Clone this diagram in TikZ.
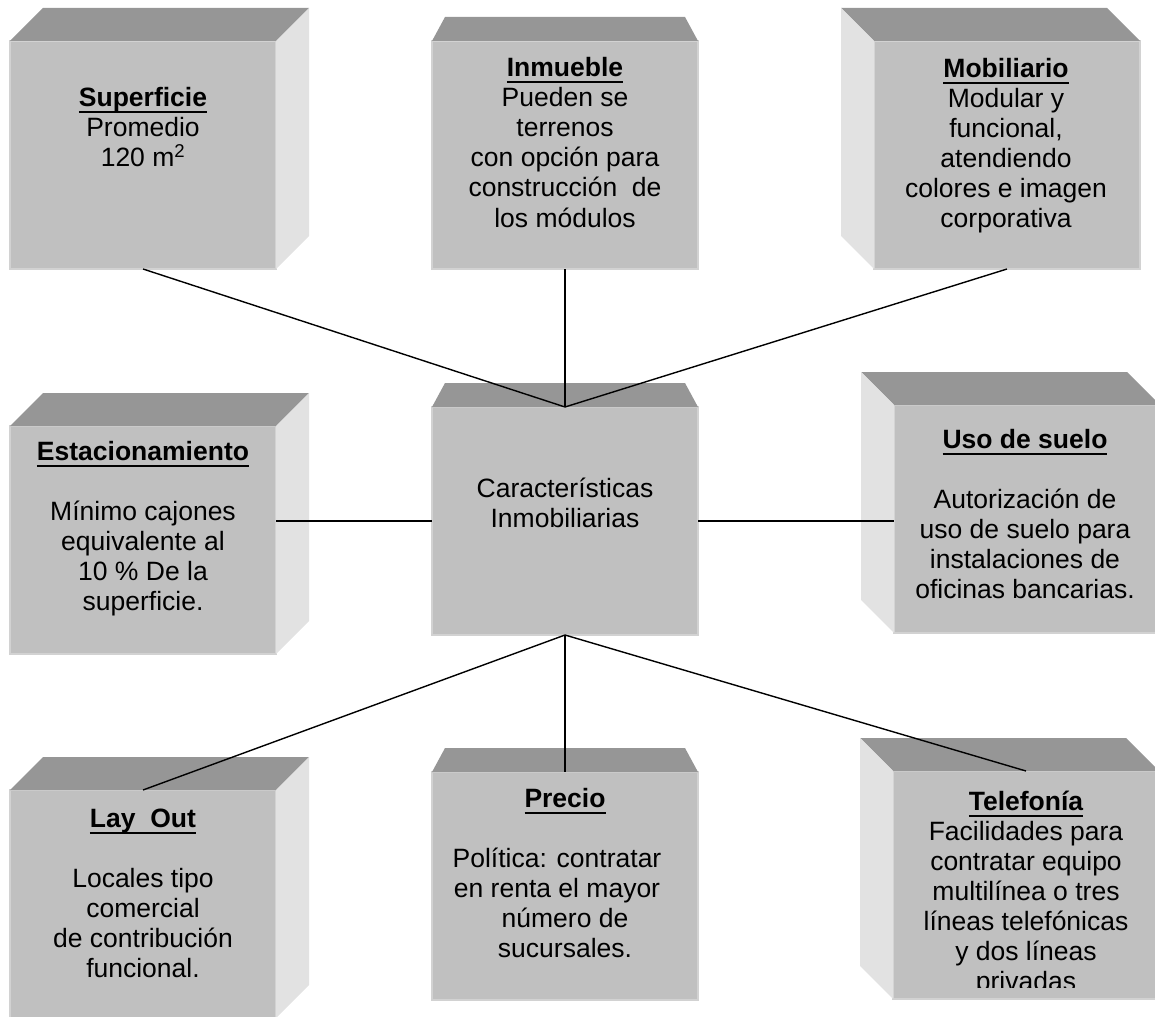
\documentclass[tikz,border=0pt]{standalone}
\usepackage{fontspec}
\setmainfont{Liberation Sans}
\usetikzlibrary{calc}

\definecolor{frontgray}{HTML}{C0C0C0}
\definecolor{topgray}{HTML}{969696}
\definecolor{sidegray}{HTML}{E2E2E2}
\definecolor{edgegray}{HTML}{D2D2D2}

% bold, underlined heading
\newcommand\boxhead[1]{\setbox0\hbox{\bfseries #1}\rlap{\rule[-6.5pt]{\wd0}{2pt}}\box0}

% shaded faces of a block; #1 = name of its front face
\newcommand\blockright[1]{%
  \fill[topgray] (#1.north west) -- ++(33,-33) -- ([shift={(33,-33)}]#1.north east) -- (#1.north east) -- cycle;
  \fill[sidegray] (#1.north east) -- ++(33,-33) -- ([shift={(33,-33)}]#1.south east) -- (#1.south east) -- cycle;}
\newcommand\blockleft[1]{%
  \fill[topgray] (#1.north east) -- ++(-33,-33) -- ([shift={(-33,-33)}]#1.north west) -- (#1.north west) -- cycle;
  \fill[sidegray] (#1.north west) -- ++(-33,-33) -- ([shift={(-33,-33)}]#1.south west) -- (#1.south west) -- cycle;}
\newcommand\blockmid[1]{%
  \fill[topgray] (#1.north west) -- ++(13,-24) -- ([shift={(-13,-24)}]#1.north east) -- (#1.north east) -- cycle;}

\begin{document}
\begin{tikzpicture}[x=1pt, y=-1pt,
  face/.style={rectangle, fill=frontgray, draw=edgegray, line width=1.2pt,
    inner sep=0pt, outer sep=0pt, minimum width=266pt, minimum height=228pt, anchor=north west},
  txt/.style={align=center, anchor=base, inner sep=0pt,
    font=\fontsize{26.5}{30}\selectfont},
  link/.style={draw=black, line width=1.4pt}]
\useasboundingbox (0,0) rectangle (1155,1016);
\clip (0,0) rectangle (1155,1016);

% front faces
\node[face] (sup) at (10,41) {};
\node[face] (inm) at (432,41) {};
\node[face] (mob) at (874,41) {};
\node[face] (est) at (10,426) {};
\node[face] (ctr) at (432,407) {};
\node[face] (uso) at (894,405) {};
\node[face] (lay) at (10,790) {};
\node[face] (pre) at (432,772) {};
\node[face] (tel) at (893,771) {};

% top and side faces
\blockright{sup} \blockmid{inm} \blockleft{mob}
\blockright{est} \blockmid{ctr} \blockleft{uso}
\blockright{lay} \blockmid{pre} \blockleft{tel}

% texts (each placed by the baseline of its last line)
\node[txt] (tsup) at (143,167) {\boxhead{Superficie}\\Promedio\\120 m\textsuperscript{2}};
\node[txt] (tinm) at (565,227) {\boxhead{Inmueble}\\Pueden se\\terrenos\\con opción para\\construcción\ \ de\\los módulos};
\node[txt] (tmob) at (1006,228) {\boxhead{Mobiliario}\\Modular y\\funcional,\\atendiendo\\colores e imagen\\corporativa};
\node[txt] (test) at (143,610) {\boxhead{Estacionamiento}\\[30pt]Mínimo cajones\\equivalente al\\10 \% De la\\superficie.};
\node[txt] (tctr) at (565,527) {Características\\Inmobiliarias};
\node[txt] (tuso) at (1025,598) {\boxhead{Uso de suelo}\\[30pt]Autorización de\\uso de suelo para\\instalaciones de\\oficinas bancarias.};
\node[txt] (tlay) at (143,977) {\boxhead{Lay\ \ Out}\\[30pt]Locales tipo\\comercial\\de contribución\\funcional.};
\node[txt] (tpre) at (565,957) {\boxhead{Precio}\\[30pt]\hspace*{-16pt}Política: contratar\\\hspace*{-16pt}en renta el mayor\\número de\\sucursales.};
\begin{scope}
  \clip (860,700) rectangle (1155,987);
  \node[txt] (ttel) at (1026,990) {\boxhead{Telefonía}\\Facilidades para\\contratar equipo\\multilínea o tres\\líneas telefónicas\\y dos líneas\\privadas};
\end{scope}

% connectors
\draw[link] (sup.south) -- (ctr.north);
\draw[link] (inm.south) -- (ctr.north);
\draw[link] (mob.south) -- (ctr.north);
\draw[link] (ctr.west) -- (ctr.west -| est.east);
\draw[link] (ctr.east) -- (ctr.east -| uso.west);
\draw[link] (ctr.south) -- (lay.north);
\draw[link] (ctr.south) -- (pre.north);
\draw[link] (ctr.south) -- (tel.north);
\end{tikzpicture}
\end{document}
